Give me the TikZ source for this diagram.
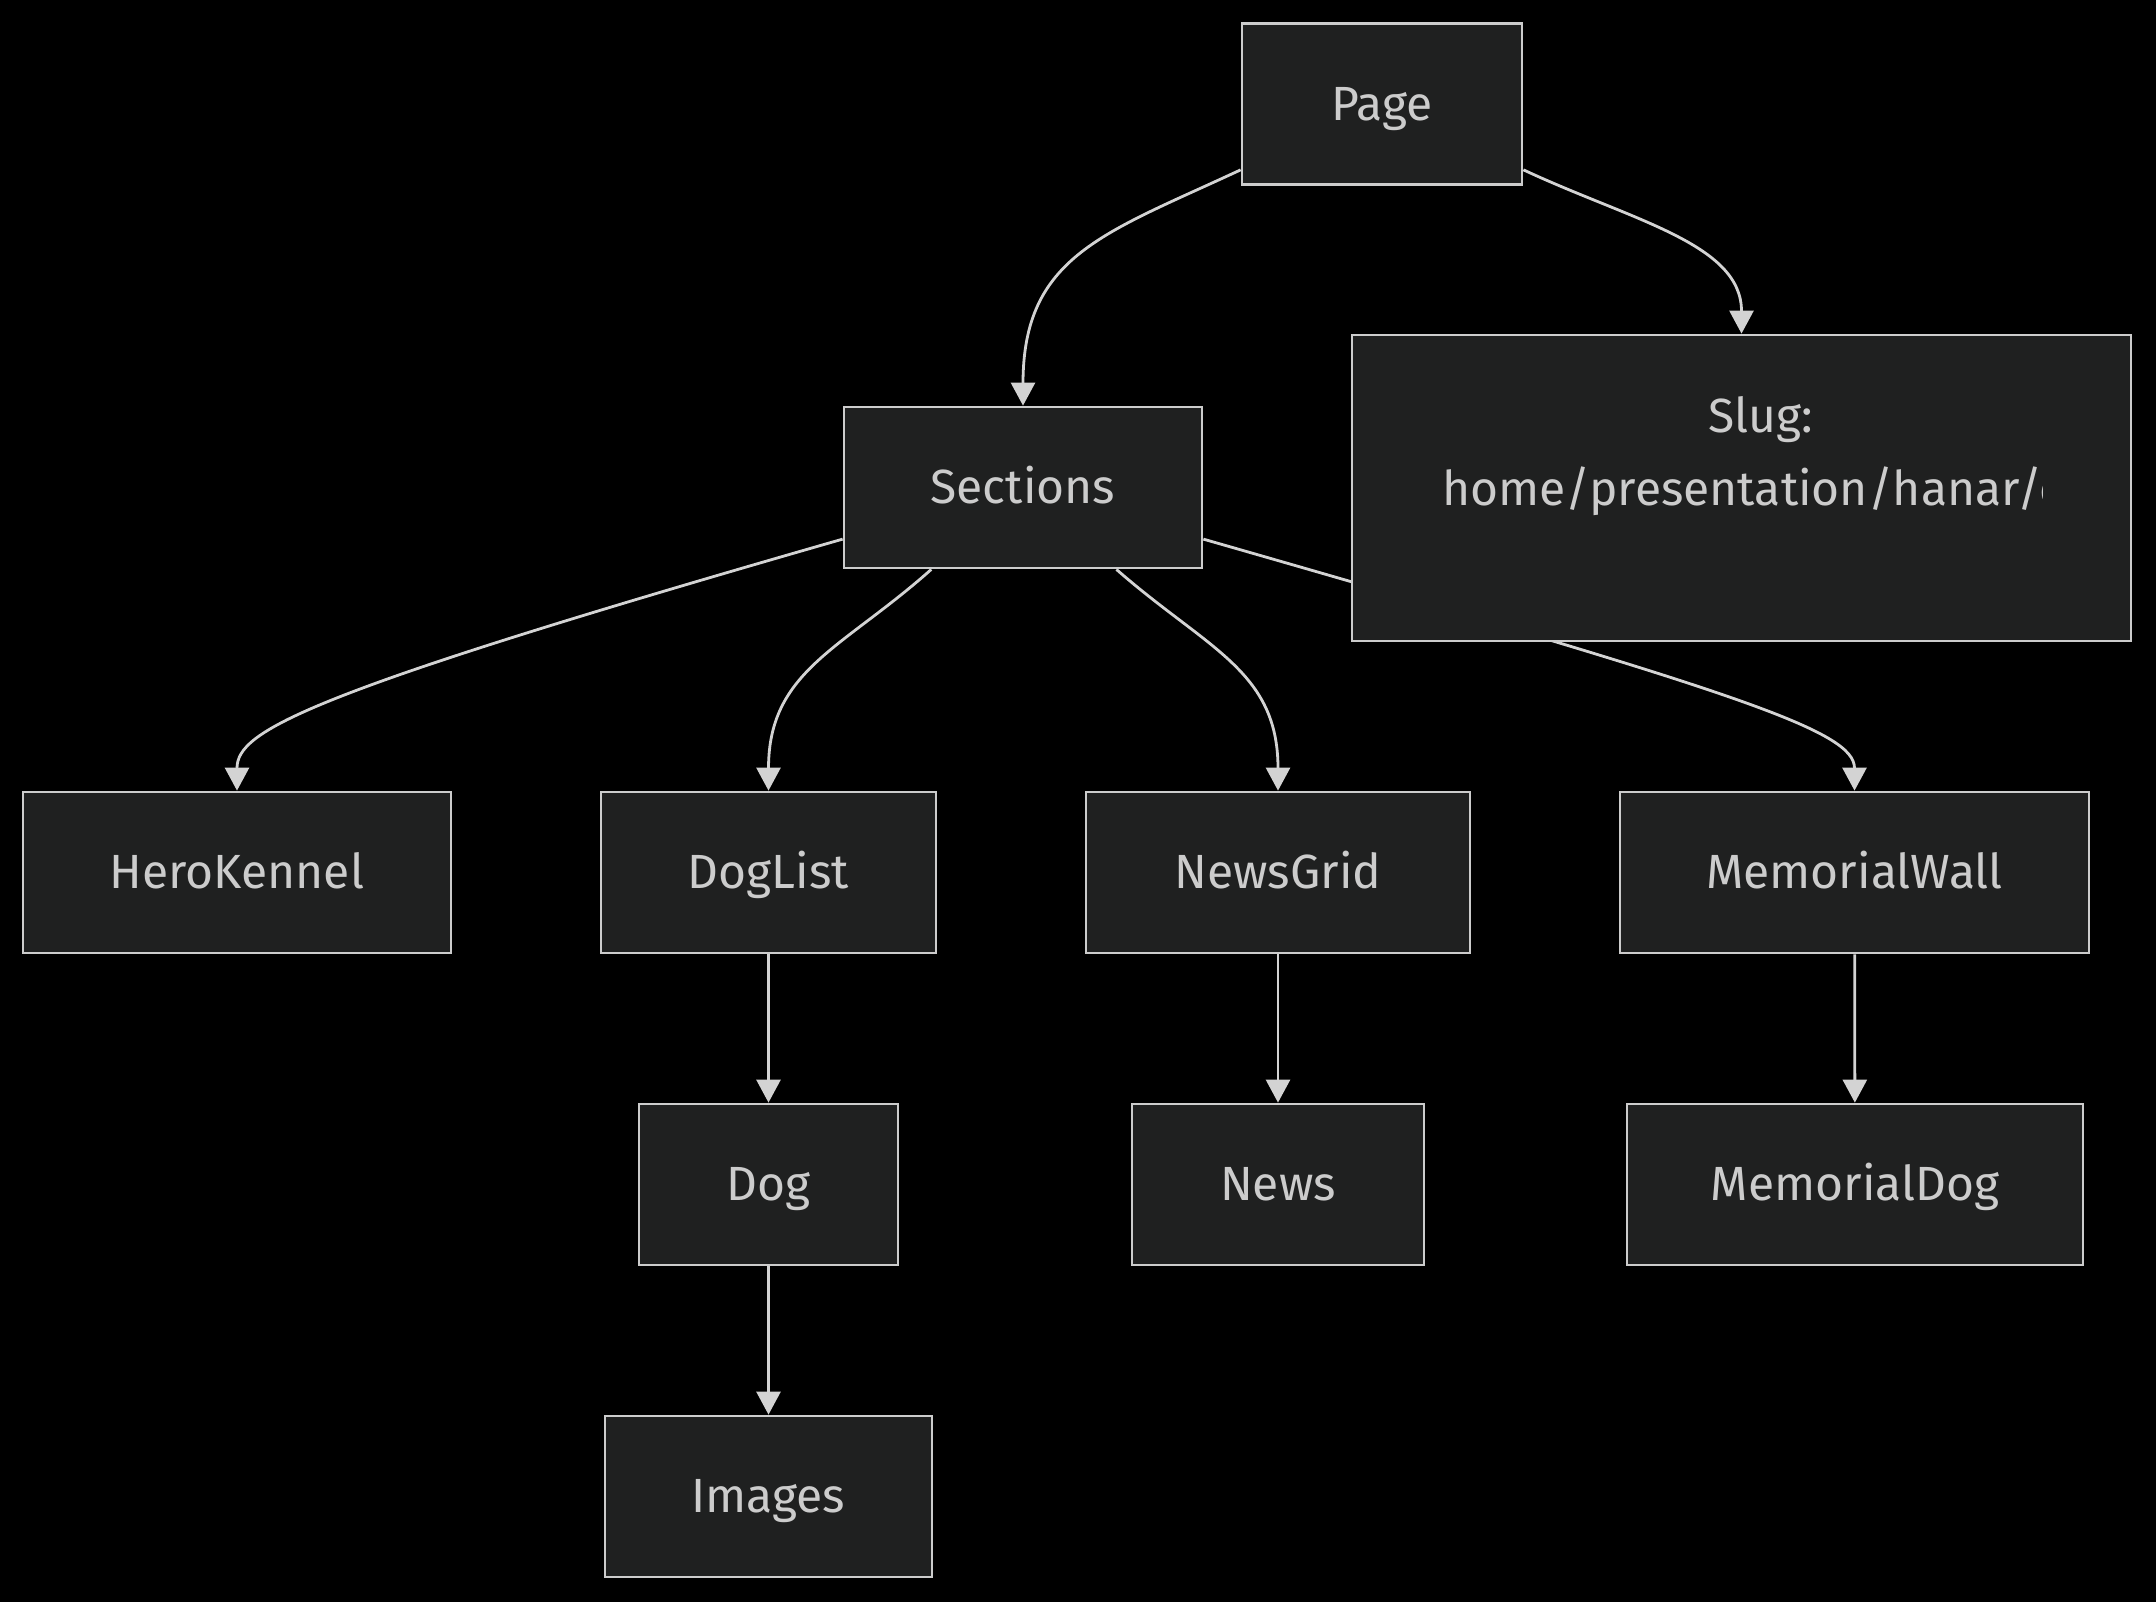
\documentclass[tikz,border=0pt]{standalone}
\usepackage{fontspec}
\setmainfont{Fira Sans}
\usetikzlibrary{arrows.meta,positioning,backgrounds}
\pgfdeclarelayer{edges}
\pgfsetlayers{background,edges,main}
\definecolor{nodefill}{HTML}{1F2020}
\definecolor{nodeline}{HTML}{CCCCCC}
\definecolor{edgeline}{HTML}{D3D3D3}
\tikzset{
  box/.style={draw=nodeline, fill=nodefill, line width=1.4pt, minimum height=80.5pt,
    inner sep=0pt, text height=20pt, text depth=4pt, text=nodeline,
    font=\fontsize{24}{29}\selectfont},
  slugtext/.style={inner sep=0pt, text height=20pt, text depth=4pt, text=nodeline,
    font=\fontsize{24}{29}\selectfont},
  link/.style={draw=edgeline, line width=1.4pt, -{Triangle[length=11.5pt,width=12pt]}},
}

\begin{document}
\begin{tikzpicture}[x=0.5pt, y=0.5pt]
    % canvas
    \begin{pgfonlayer}{background}
        \fill[black] (0,0) rectangle (2156,-1602);
    \end{pgfonlayer}
    \useasboundingbox (0,0) rectangle (2156,-1602);

    % top levels
    \node[box, minimum width=140pt] (page) at (1382,-104) {Page};
    \node[box, minimum width=179pt] (sections) at (1023,-487.5) {Sections};
    \node[box, minimum width=389.5pt, minimum height=153pt] (slug) at (1741.5,-488) {};
    \begin{scope}
        \clip (slug.south west) rectangle (2042,-335);
        \node[slugtext] (slugkey) at (1761,-416) {Slug:};
        \node[slugtext, anchor=west] (slugval) at (1442,-489) {home/presentation/hanar/e};
    \end{scope}

    % sections
    \node[box, minimum width=214pt] (hero) at (237,-872.5) {HeroKennel};
    \node[box, minimum width=167.5pt] (doglist) at (768.5,-872.5) {DogList};
    \node[box, minimum width=192pt] (newsgrid) at (1278,-872.5) {NewsGrid};
    \node[box, minimum width=234.5pt] (memwall) at (1854.5,-872.5) {MemorialWall};

    % children
    \node[box, minimum width=129.5pt] (dog) at (768.5,-1184.5) {Dog};
    \node[box, minimum width=146pt] (news) at (1278,-1184.5) {News};
    \node[box, minimum width=228pt] (memdog) at (1855,-1184.5) {MemorialDog};
    \node[box, minimum width=163.5pt] (images) at (768.5,-1496.5) {Images};

    % connectors, kept under the boxes
    \begin{pgfonlayer}{edges}
        \draw[link] (page) to[out=-155, in=90, out distance=75pt, in distance=75pt] (sections);
        \draw[link] (page) to[out=-25, in=90, out distance=60pt, in distance=45pt] (slug);
        \draw[link] (sections) to[out=-164, in=90, out distance=280pt, in distance=30pt] (hero);
        \draw[link] (sections) to[out=-138.5, in=90, out distance=60pt, in distance=60pt] (doglist);
        \draw[link] (sections) to[out=-41.5, in=90, out distance=60pt, in distance=60pt] (newsgrid);
        \draw[link] (sections) to[out=-16, in=90, out distance=280pt, in distance=30pt] (memwall);
        \draw[link] (doglist) -- (dog);
        \draw[link] (dog) -- (images);
        \draw[link] (newsgrid) -- (news);
        \draw[link] (memwall) -- (memdog);
    \end{pgfonlayer}
\end{tikzpicture}
\end{document}
